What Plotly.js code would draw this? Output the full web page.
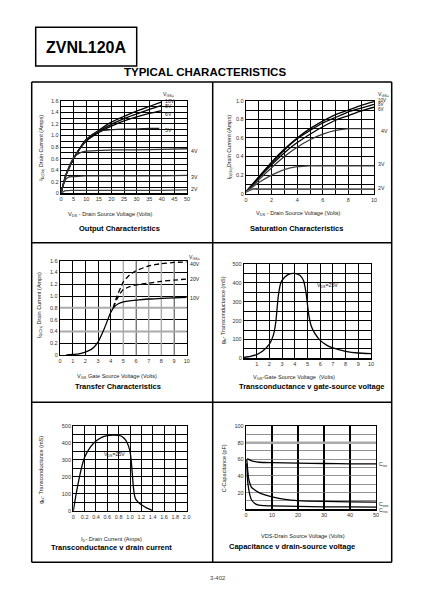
<!DOCTYPE html>
<html><head><meta charset="utf-8">
<script src="https://cdn.plot.ly/plotly-3.0.1.min.js"></script>
<style>html,body{margin:0;padding:0;background:#fff;}#chart{width:422px;height:595px;}</style>
</head><body><div id="chart"></div>
<script>
// ---------- Output Characteristics ----------
const outVds   = [0,1,2,3,5,7.5,10,15,20,25,30,35,40];
const out10V   = [0,0.17,0.32,0.42,0.6,0.78,0.93,1.09,1.23,1.33,1.42,1.5,1.58];
const out8V    = [0,0.17,0.32,0.42,0.6,0.78,0.92,1.07,1.19,1.29,1.37,1.45,1.52];
const out6V    = [0,0.17,0.32,0.42,0.6,0.77,0.9,1.05,1.16,1.25,1.32,1.38,1.43];
const out5Vds  = [0,1,2,3,5,7.5,10,12.5,15,20,25,30,35,39];
const out5V    = [0,0.17,0.32,0.42,0.6,0.77,0.92,1.02,1.07,1.1,1.11,1.11,1.12,1.12];
const out4Vds  = [0,1,2,3,4,5,7.5,10,15,20,30,40,50];
const out4V    = [0,0.17,0.32,0.44,0.54,0.62,0.7,0.73,0.74,0.75,0.75,0.76,0.77];
const out3Vds  = [0,1,2,3,4,5,10,20,30,40,50];
const out3V    = [0,0.15,0.25,0.28,0.29,0.29,0.3,0.3,0.3,0.3,0.31];
const out2Vds  = [0,1,2,4,10,20,30,40,50];
const out2V    = [0,0.03,0.045,0.05,0.05,0.05,0.05,0.05,0.06];
const outXTicks = [0,5,10,15,20,25,30,35,40,45,50];
const outXText  = ['0','5','10','15','20','25','30','35','40','45','50'];
const outYTicks = [0,0.2,0.4,0.6,0.8,1.0,1.2,1.4,1.6];
const outYText  = ['0','0.2','0.4','0.6','0.8','1.0','1.2','1.4','1.6'];
const outYGrid  = [0.1,0.3,0.5,0.7,0.9,1.1,1.3,1.5];

// ---------- Saturation Characteristics ----------
const satVds = [0,0.5,1,2,3,4,5,6,7,8,9,10];
const sat10V = [0.02,0.1,0.18,0.34,0.48,0.6,0.7,0.78,0.85,0.9,0.95,0.99];
const sat8V  = [0.02,0.1,0.18,0.33,0.47,0.59,0.68,0.76,0.82,0.88,0.92,0.96];
const sat6V  = [0.02,0.09,0.17,0.31,0.44,0.55,0.64,0.72,0.79,0.84,0.89,0.93];
const sat4V  = [0.02,0.08,0.15,0.28,0.4,0.5,0.58,0.64,0.68,0.7,0.7,0.7];
const sat3V  = [0.02,0.07,0.12,0.2,0.26,0.29,0.3,0.3,0.3,0.3,0.3,0.3];
const sat2V  = [0.02,0.05,0.05,0.05,0.05,0.05,0.05,0.05,0.05,0.05,0.05,0.05];
const satXTicks = [0,2,4,6,8,10];
const satXText  = ['0','2','4','6','8','10'];
const satXGrid  = [1,3,5,7,9];
const satYTicks = [0,0.2,0.4,0.6,0.8,1.0];
const satYText  = ['0','0.2','0.4','0.6','0.8','1.0'];
const satYGrid  = [0.1,0.3,0.5,0.7,0.9];

// ---------- Transfer Characteristics ----------
const tr10Vgs = [0.5,1,1.5,2,2.5,3,3.5,4,4.3,4.6,5,5.5,6,7,8,9,10];
const tr10V   = [0,0.01,0.02,0.05,0.1,0.22,0.45,0.72,0.82,0.87,0.9,0.92,0.93,0.95,0.96,0.97,0.98];
const tr20Vgs = [4.2,4.5,4.8,5,5.5,6,7,8,9,10];
const tr20V   = [0.8,0.95,1.06,1.11,1.16,1.19,1.22,1.25,1.27,1.29];
const tr40Vgs = [4.2,4.5,4.8,5,5.5,6,7,8,9,10];
const tr40V   = [0.8,1.0,1.15,1.24,1.36,1.43,1.51,1.55,1.57,1.58];
const trXTicks = [0,1,2,3,4,5,6,7,8,9,10];
const trXText  = ['0','1','2','3','4','5','6','7','8','9','10'];
const trYTicks = [0,0.2,0.4,0.6,0.8,1.0,1.2,1.4,1.6];
const trYText  = ['0','0.2','0.4','0.6','0.8','1.0','1.2','1.4','1.6'];

// ---------- Transconductance v gate-source voltage ----------
const gVgs = [0,0.5,1,1.5,2,2.3,2.5,2.7,2.9,3.2,3.6,4,4.4,4.7,4.9,5.1,5.3,5.6,6,6.5,7,8,9,10];
const gfsVgs = [5,10,20,40,75,120,190,330,400,430,448,450,440,410,340,230,170,130,95,70,55,37,28,25];
const gvXTicks = [1,2,3,4,5,6,7,8,9,10];
const gvXText  = ['1','2','3','4','5','6','7','8','9','10'];
const gvXGrid  = [0];
const gYTicks = [0,100,200,300,400,500];
const gYText  = ['0','100','200','300','400','500'];
const gYGrid  = [50,150,250,350,450];

// ---------- Transconductance v drain current ----------
const gId   = [0,0.05,0.1,0.15,0.2,0.3,0.4,0.5,0.6,0.7,0.8,0.85,0.9,0.95,1.0,1.02,1.04,1.06,1.08,1.1,1.15,1.2,1.3,1.4];
const gfsId = [0,100,185,260,315,375,410,432,442,445,443,438,425,400,350,300,220,140,90,70,50,37,17,3];
const giXTicks = [0,0.2,0.4,0.6,0.8,1.0,1.2,1.4,1.6,1.8,2.0];
const giXText  = ['0','0.2','0.4','0.6','0.8','1.0','1.2','1.4','1.6','1.8','2.0'];

// ---------- Capacitance v drain-source voltage ----------
const cissVds = [0.5,1,2,3,5,10,20,30,40,50];
const ciss    = [61,60,58.5,57.5,56.5,56,55.5,55,54.5,54.5];
const cossVds = [0.3,0.7,1,1.5,2,3,5,7,10,15,20,30,40,50];
const coss    = [60,45,37,31,27,24,20,17.5,15,12,10.5,9.5,9,8.5];
const crssVds = [0.3,0.6,1,1.5,2,3,4,5,7,10,20,30,40,50];
const crss    = [55,35,25,17,12,8,6,5,4.5,4,3.5,3,3,2.5];
const cXTicks = [0,10,20,30,40,50];
const cXText  = ['0','10','20','30','40','50'];
const cYTicks = [0,20,40,60,80,100];
const cYText  = ['-','20','40','60','80','100'];
const cYGrid  = [10,30,50,70,90];

// ---------- layout helpers ----------
const W = 422, H = 595;
const FONT = '"Liberation Sans", Arial, Helvetica, sans-serif';
const px = v => v / W;
const py = v => 1 - v / H;
const TICKF = {family: FONT, size: 5.5, color: '#333'};

function axis(d0, d1, range, tv, tt, anchor, grid, extra) {
  const a = {
    domain: [d0, d1], range: range, anchor: anchor,
    tickmode: 'array', tickvals: tv, ticktext: tt,
    showgrid: true, gridcolor: '#000', gridwidth: 1,
    showline: true, linecolor: '#000', linewidth: 1.2, mirror: true,
    zeroline: false, ticks: '', tickfont: TICKF, fixedrange: true
  };
  if (grid) a.minor = {tickmode: 'array', tickvals: grid, showgrid: true, gridcolor: '#000', gridwidth: 1, ticks: ''};
  return Object.assign(a, extra || {});
}
function xa(x0, x1, range, tv, tt, anchor, grid, extra) { return axis(px(x0), px(x1), range, tv, tt, anchor, grid, extra); }
function ya(y0, y1, range, tv, tt, anchor, grid, extra) { return axis(py(y1), py(y0), range, tv, tt, anchor, grid, extra); }

function line(x, y, xr, yr, opts) {
  opts = opts || {};
  return {type: 'scatter', mode: 'lines', x: x, y: y, xaxis: xr, yaxis: yr,
    line: Object.assign({color: '#000', width: 1.3, shape: 'spline', smoothing: 0.5}, opts),
    hoverinfo: 'skip', showlegend: false};
}

const traces = [
  line(outVds, out10V, 'x', 'y'),
  line(outVds, out8V, 'x', 'y'),
  line(outVds, out6V, 'x', 'y'),
  line(out5Vds, out5V, 'x', 'y', {color: '#222'}),
  line(out4Vds, out4V, 'x', 'y', {color: '#333'}),
  line(out3Vds, out3V, 'x', 'y', {color: '#333'}),
  line(out2Vds, out2V, 'x', 'y', {color: '#444'}),

  line(satVds, sat10V, 'x2', 'y2'),
  line(satVds, sat8V, 'x2', 'y2'),
  line(satVds, sat6V, 'x2', 'y2'),
  line(satVds, sat4V, 'x2', 'y2', {color: '#333'}),
  line(satVds, sat3V, 'x2', 'y2', {color: '#444'}),
  line(satVds, sat2V, 'x2', 'y2', {color: '#555', width: 1.8}),

  line(tr40Vgs, tr40V, 'x3', 'y3', {dash: '5px,3px'}),
  line(tr20Vgs, tr20V, 'x3', 'y3', {dash: '5px,3px'}),
  line(tr10Vgs, tr10V, 'x3', 'y3'),

  line(gVgs, gfsVgs, 'x4', 'y4'),

  line(gId, gfsId, 'x5', 'y5'),

  line(cissVds, ciss, 'x6', 'y6'),
  line(cossVds, coss, 'x6', 'y6'),
  line(crssVds, crss, 'x6', 'y6')
];

// text annotations
function ann(text, x, y, size, o) {
  o = o || {};
  return Object.assign({text: text, xref: 'paper', yref: 'paper', x: px(x), y: py(y),
    showarrow: false, xanchor: 'center', yanchor: 'middle',
    font: {family: FONT, size: size, color: o.color || '#222'}}, o.extra || {});
}
const B = (t, x, y, s) => ann('<b>' + t + '</b>', x, y, s || 7.5, {color: '#000'});
const L = (t, x, y, s) => ann(t, x, y, s || 5.2, {extra: {xanchor: 'left'}});
const YT = (t, x, y) => ann(t, x, y, 5.5, {extra: {textangle: -90}});
const XT = (t, x, y) => ann(t, x, y, 5.6);

const annotations = [
  ann('<b>ZVNL120A</b>', 86, 47.5, 16, {color: '#000'}),
  ann('<b>TYPICAL CHARACTERISTICS</b>', 204.5, 72.3, 11.5, {color: '#000'}),
  ann('3-402', 218, 578, 6, {color: '#444'}),

  // panel 1
  YT('I<sub>D(On)</sub> Drain Current (Amps)', 40.7, 148),
  XT('V<sub>DS</sub> - Drain Source Voltage (Volts)', 110, 214),
  B('Output Characteristics', 119, 229),
  L('V<sub>GS=</sub>', 161, 95),
  L('10V', 162.5, 101.2), L('8V', 162.5, 106.3), L('6V', 162.5, 114.3), L('5V', 162.5, 130),
  L('4V', 188.5, 151), L('3V', 188.5, 177), L('2V', 188.5, 189.3),

  // panel 2
  YT('I<sub>D(On)</sub>Drain Current (Amps)', 229, 147.3),
  XT('V<sub>DS</sub> - Drain Source Voltage (Volts)', 298.3, 213.5),
  B('Saturation Characteristics', 296.7, 229),
  L('V<sub>GS=</sub>', 375.5, 94.5),
  L('10V', 376, 100.2, 4.6), L('8V', 376, 104.7, 4.6), L('6V', 376, 109.2, 4.6),
  L('4V', 378.5, 131), L('3V', 376, 164.3), L('2V', 376, 188.3),

  // panel 3
  YT('I<sub>D(On)</sub> Drain Current (Amps)', 39, 305),
  XT('V<sub>GS</sub> Gate Source Voltage (Volts)', 116.7, 376),
  B('Transfer Characteristics', 117.5, 386.5),
  L('V<sub>GS=</sub>', 186.5, 257.3),
  L('40V', 187.5, 264), L('20V', 187.5, 279.3), L('10V', 187.5, 297.7),

  // panel 4
  YT('g<sub>fs</sub>- Transconductance (mS)', 223.3, 310),
  XT('V<sub>GS</sub>-Gate Source Voltage  (Volts)', 293.7, 377.5),
  B('Transconductance v gate-source voltage', 311.7, 386.7),
  L('V<sub>DS</sub>=25V', 315, 285.7),

  // panel 5
  YT('g<sub>fs</sub>- Transconductance (mS)', 40.7, 470),
  XT('I<sub>D</sub>- Drain Current (Amps)', 111.7, 539),
  B('Transconductance v drain current', 111.7, 547.3),
  L('V<sub>DS</sub>=25V', 101.7, 454),

  // panel 6
  YT('C-Capacitance (pF)', 224, 468.3),
  XT('VDS-Drain Source Voltage (Volts)', 303.3, 536),
  B('Capacitance v drain-source voltage', 291.7, 546.5),
  L('C<sub>iss</sub>', 376.7, 464.3), L('C<sub>oss</sub>', 376.7, 504), L('C<sub>rss</sub>', 376.7, 510.5)
];

// frame shapes
function pl(x0, y0, x1, y1, w) {
  return {type: 'line', xref: 'paper', yref: 'paper', x0: px(x0), y0: py(y0), x1: px(x1), y1: py(y1),
    line: {color: '#000', width: w || 1.5}, layer: 'above'};
}
function gl(xr, yr, x0, y0, x1, y1, color, w) {
  return {type: 'line', xref: xr, yref: yr, x0: x0, y0: y0, x1: x1, y1: y1,
    line: {color: color, width: w}, layer: 'between'};
}
const shapes = [
  {type: 'rect', xref: 'paper', yref: 'paper', x0: px(35.7), x1: px(136.7), y0: py(66), y1: py(27.3),
   line: {color: '#000', width: 1.5}},
  pl(31.7, 82, 31.7, 562.3), pl(212.7, 82, 212.7, 562.3), pl(391.7, 82, 391.7, 562.3),
  pl(31.7, 82, 391.7, 82), pl(31.7, 242.7, 391.7, 242.7), pl(31.7, 402.3, 391.7, 402.3), pl(31.7, 562.3, 391.7, 562.3)
];
// lighter (gray) grid lines in the transfer and capacitance panels
[5, 6, 7, 8, 9].forEach(v => shapes.push(gl('x3', 'y3', v, 0, v, 1.6, '#aaa', 1.4)));
[0.4, 0.8].forEach(v => shapes.push(gl('x3', 'y3', 0, v, 10, v, '#aaa', 2)));
shapes.push(gl('x6', 'y6', 0, 80, 50, 80, '#aaa', 2.5));

const layout = {
  width: W, height: H, margin: {l: 0, r: 0, t: 0, b: 0},
  paper_bgcolor: '#fff', plot_bgcolor: '#fff', showlegend: false,
  font: {family: FONT, color: '#222'},
  xaxis:  xa(61, 187, [0, 50], outXTicks, outXText, 'y'),
  yaxis:  ya(100.7, 193.3, [0, 1.6], outYTicks, outYText, 'x', outYGrid),
  xaxis2: xa(246, 374, [0, 10], satXTicks, satXText, 'y2', satXGrid),
  yaxis2: ya(100.7, 193.7, [0, 1.0], satYTicks, satYText, 'x2', satYGrid),
  xaxis3: xa(60, 186.7, [0, 10], trXTicks, trXText, 'y3'),
  yaxis3: ya(260.7, 355, [0, 1.6], trYTicks, trYText, 'x3'),
  xaxis4: xa(244, 371, [0, 10], gvXTicks, gvXText, 'y4', gvXGrid),
  yaxis4: ya(264, 358.3, [0, 500], gYTicks, gYText, 'x4', gYGrid),
  xaxis5: xa(73.3, 186.7, [0, 2.0], giXTicks, giXText, 'y5'),
  yaxis5: ya(425.7, 511, [0, 500], gYTicks, gYText, 'x5', gYGrid),
  xaxis6: xa(246, 376, [0, 50], cXTicks, cXText, 'y6', null, {gridwidth: 1.6}),
  yaxis6: ya(426, 509.3, [0, 100], cYTicks, cYText, 'x6', cYGrid, {gridcolor: '#777', gridwidth: 0.8}),
  annotations: annotations,
  shapes: shapes
};
layout.yaxis6.minor.gridcolor = '#777';
layout.yaxis6.minor.gridwidth = 0.8;

Plotly.newPlot('chart', traces, layout, {staticPlot: true, displayModeBar: false});
</script></body></html>
